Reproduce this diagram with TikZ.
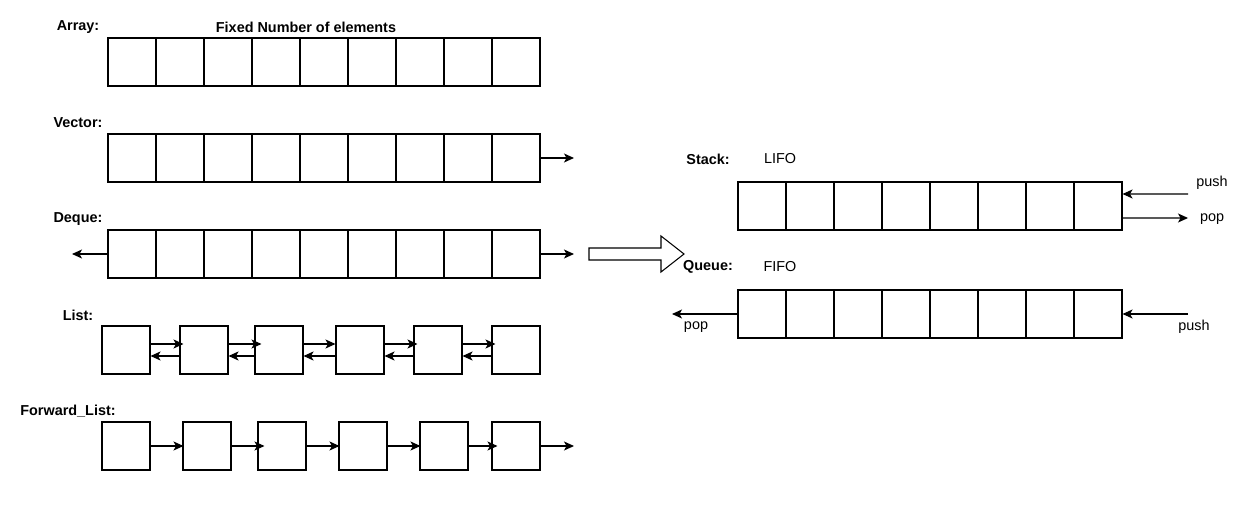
\documentclass[tikz,border=0pt]{standalone}
\usepackage{fontspec}
\setmainfont{Liberation Sans}
\usetikzlibrary{arrows.meta}

\begin{document}
\begin{tikzpicture}[x=0.02cm,y=-0.02cm,
    cell/.style={draw,line width=0.6pt,minimum size=0.96cm,inner sep=0pt},
    lbl/.style={font=\fontsize{8.2}{10}\selectfont\bfseries},
    txt/.style={font=\fontsize{8.2}{10}\selectfont},
    link/.style={line width=0.6pt,-{Stealth[length=2mm,width=1.8mm,inset=0.5mm]}}]
       \useasboundingbox (0,0) rectangle (1250,513);

       % left side: the containers
       \node[lbl](tArr) at (78,27) {Array:};
       \node[lbl](tFix) at (306,27) {Fixed Number of elements};
       \node[lbl](tVec) at (78,123) {Vector:};
       \node[lbl](tDeq) at (78,219) {Deque:};
       \node[lbl](tLst) at (78,315) {List:};
       \node[lbl](tFwd) at (68,411) {Forward\_List:};

       \foreach \i in {1,...,9} {
         \node[cell](arr\i) at (84+48*\i,62) {};
         \node[cell](vec\i) at (84+48*\i,158) {};
         \node[cell](deq\i) at (84+48*\i,254) {};
       }

       \coordinate(vecEnd) at (574,158);
       \coordinate(deqL) at (72,254);
       \coordinate(deqR) at (574,254);
       \draw[link] (vec9.east) -- (vecEnd);
       \draw[link] (deq1.west) -- (deqL);
       \draw[link] (deq9.east) -- (deqR);

       % list
       \foreach \x [count=\n] in {126,204,279,360,438,516}
         \node[cell](lst\n) at (\x,350) {};
       \foreach \a/\b/\s in {1/2/4,2/3/7,3/4/0,4/5/4,5/6/4} {
         \draw[link] ([yshift=0.12cm]lst\a.east) -- ([yshift=0.12cm,xshift=\s*0.02cm]lst\b.west);
         \draw[link] ([yshift=-0.12cm]lst\b.west) -- ([yshift=-0.12cm]lst\a.east);
       }

       % forward list
       \foreach \x [count=\n] in {126,207,282,363,444,516}
         \node[cell](fwd\n) at (\x,446) {};
       \foreach \a/\b/\s in {1/2/1,2/3/7,3/4/1,4/5/1,5/6/6}
         \draw[link] (fwd\a.east) -- ([xshift=\s*0.02cm]fwd\b.west);
       \coordinate(fwdEnd) at (574,446);
       \draw[link] (fwd6.east) -- (fwdEnd);

       % big arrow
       \draw[line width=0.6pt] (589,248) -- (661,248) -- (661,236) -- (684,254)
             -- (661,272) -- (661,260) -- (589,260) -- cycle;

       % right side: the adaptors
       \node[lbl](tStk) at (708,159) {Stack:};
       \node[txt](tLifo) at (780,159) {LIFO};
       \node[lbl](tQue) at (708,267) {Queue:};
       \node[txt](tFifo) at (780,267) {FIFO};

       \foreach \i in {1,...,8} {
         \node[cell](stk\i) at (714+48*\i,206) {};
         \node[cell](que\i) at (714+48*\i,314) {};
       }

       \coordinate(stkIn) at (1188,194);
       \coordinate(stkOut) at (1188,218);
       \draw[link] (stkIn) -- ([yshift=0.24cm]stk8.east);
       \draw[link] ([yshift=-0.24cm]stk8.east) -- (stkOut);
       \node[txt](tPush1) at (1212,183) {push};
       \node[txt](tPop1) at (1212,219) {pop};

       \coordinate(queOut) at (672,314);
       \coordinate(queIn) at (1188,314);
       \draw[link] (que1.west) -- (queOut);
       \draw[link] (queIn) -- (que8.east);
       \node[txt](tPop2) at (696,327) {pop};
       \node[txt](tPush2) at (1194,327) {push};

      \end{tikzpicture}
\end{document}
